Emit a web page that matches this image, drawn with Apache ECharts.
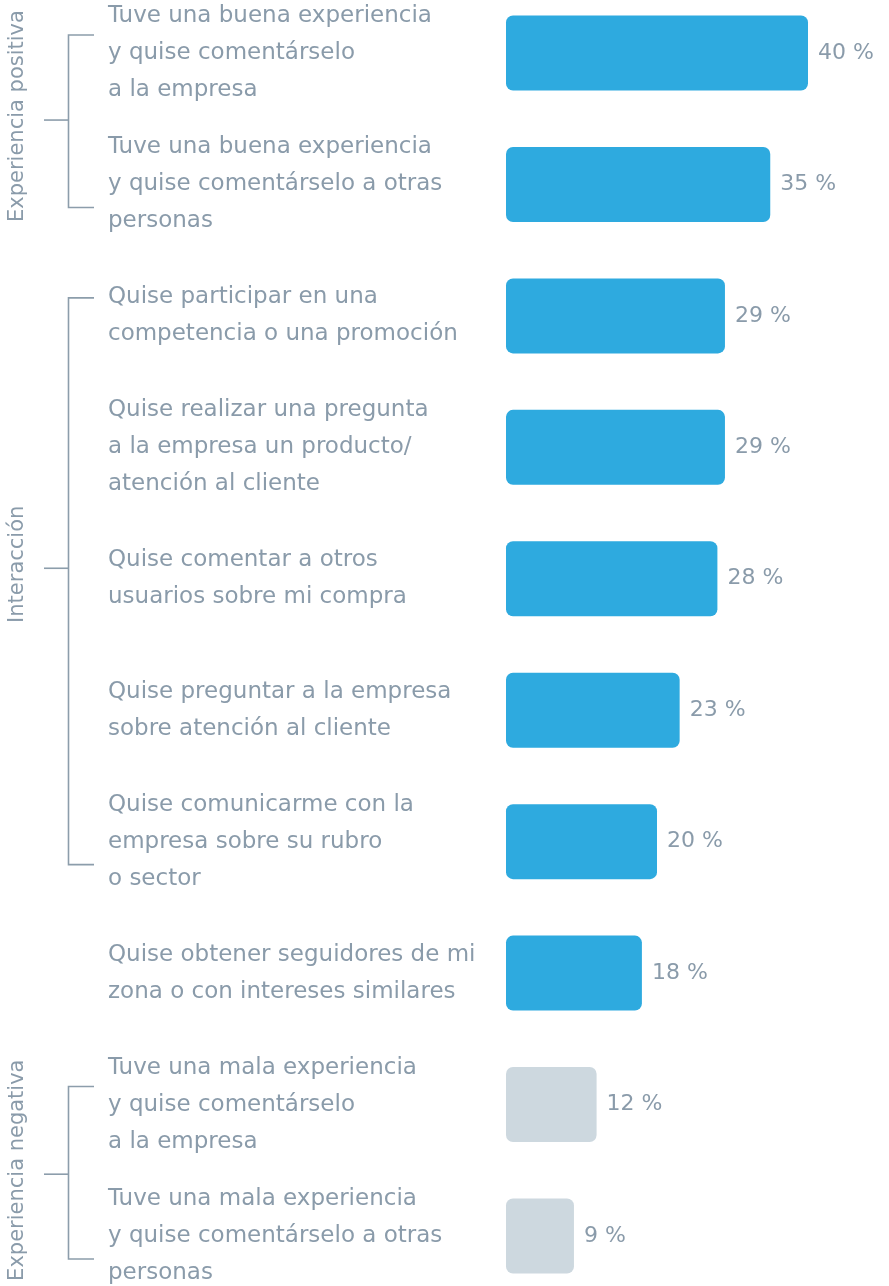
<!DOCTYPE html>
<html>
<head>
<meta charset="utf-8">
<script src="https://cdn.jsdelivr.net/npm/echarts@6/dist/echarts.min.js"></script>
<style>
html,body{margin:0;padding:0;background:#fff;overflow:hidden;width:889px;height:1286px;position:relative;}
#chart{position:absolute;left:0;top:-13px;width:889px;height:1315px;}
</style>
</head>
<body>
<div id="chart"></div>
<script>
const categories = [
  "Tuve una buena experiencia\ny quise comentárselo\na la empresa",
  "Tuve una buena experiencia\ny quise comentárselo a otras\npersonas",
  "Quise participar en una\ncompetencia o una promoción",
  "Quise realizar una pregunta\na la empresa un producto/\natención al cliente",
  "Quise comentar a otros\nusuarios sobre mi compra",
  "Quise preguntar a la empresa\nsobre atención al cliente",
  "Quise comunicarme con la\nempresa sobre su rubro\no sector",
  "Quise obtener seguidores de mi\nzona o con intereses similares",
  "Tuve una mala experiencia\ny quise comentárselo\na la empresa",
  "Tuve una mala experiencia\ny quise comentárselo a otras\npersonas"
];
const values = [40, 35, 29, 29, 28, 23, 20, 18, 12, 9];
const negativeFlags = [false, false, false, false, false, false, false, false, true, true];
const groupNames = ["Experiencia positiva", "Interacción", "Experiencia negativa"];
const groupFrom = [0, 2, 8];
const groupTo = [1, 6, 9];
const groupMid = [0.51, 3.92, 8.53];

const BLUE = '#2EAADF';
const GREY = '#CDD8DF';
const TEXT = '#8A9BAA';
const LINE = '#8C9DAB';
const FONT = 'DejaVu Sans';

const chart = echarts.init(document.getElementById('chart'), null, {renderer: 'canvas'});
chart.setOption({
  animation: false,
  backgroundColor: '#ffffff',
  grid: {left: 506, right: 5.5, top: 0.3, bottom: 0.3, containLabel: false},
  xAxis: {type: 'value', min: 0, max: 50, show: false},
  yAxis: {
    type: 'category', inverse: true, data: categories,
    axisLine: {show: false}, axisTick: {show: false}, splitLine: {show: false},
    axisLabel: {
      align: 'left', margin: 398, color: TEXT, fontFamily: FONT,
      fontSize: 23, lineHeight: 37, fontWeight: 'normal'
    }
  },
  series: [{
    type: 'bar',
    barWidth: 75,
    data: values.map((v, i) => ({
      value: v,
      itemStyle: {color: negativeFlags[i] ? GREY : BLUE, borderRadius: 7}
    })),
    label: {
      show: true, position: 'right', distance: 10,
      formatter: p => p.value + ' %',
      color: TEXT, fontFamily: FONT, fontSize: 22, fontWeight: 'normal'
    }
  }]
});

function yOf(idx) {
  return chart.convertToPixel({yAxisIndex: 0}, idx);
}
const graphics = [];
const xV = 68.5, xTickR = 94, xTickL = 44;
groupNames.forEach((name, g) => {
  const top = yOf(groupFrom[g]) - 18;
  const bottom = yOf(groupTo[g]) + 23;
  const a = yOf(Math.floor(groupMid[g]));
  const b = yOf(Math.floor(groupMid[g]) + 1);
  const mid = a + (b - a) * (groupMid[g] - Math.floor(groupMid[g]));
  const ls = {stroke: LINE, lineWidth: 1.6};
  graphics.push({type: 'polyline', silent: true,
    shape: {points: [[xTickR, top], [xV, top], [xV, bottom], [xTickR, bottom]]}, style: ls});
  graphics.push({type: 'line', silent: true,
    shape: {x1: xTickL, y1: mid, x2: xV, y2: mid}, style: ls});
  graphics.push({type: 'text', silent: true, x: 18, y: mid - 4, rotation: Math.PI / 2,
    style: {text: name, fill: TEXT, font: 'normal 21px "' + FONT + '"', textAlign: 'center', textVerticalAlign: 'middle'}});
});
chart.setOption({graphic: graphics});
</script>
</body>
</html>
